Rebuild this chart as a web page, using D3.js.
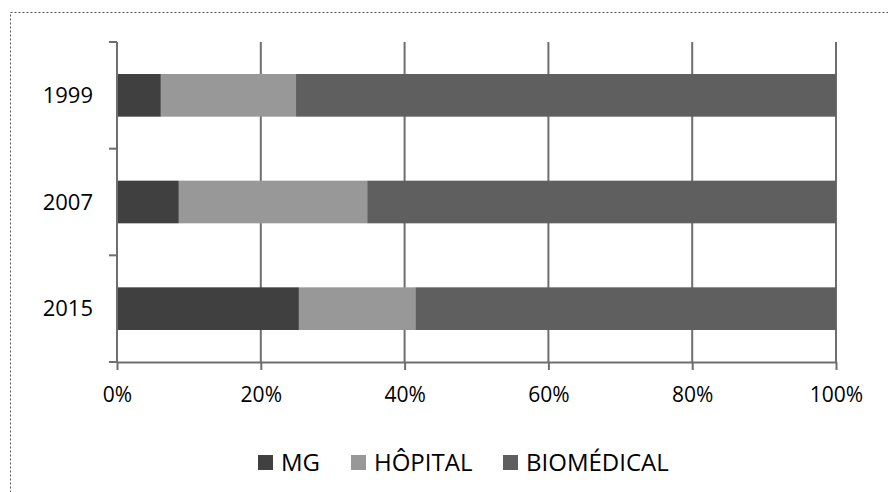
<!DOCTYPE html>
<html>
<head>
<meta charset="utf-8">
<script src="https://cdn.jsdelivr.net/npm/d3@7"></script>
<style>
  body { margin: 0; background: #fff; }
  svg { display: block; }
  text { font-family: "Open Sans", sans-serif; fill: #000; }
</style>
</head>
<body>
<div id="chart"></div>
<script>
// Data
const years = ['1999', '2007', '2015'];
const series = ['MG', 'HÔPITAL', 'BIOMÉDICAL'];
const mgValues = [6.1, 8.6, 25.3];
const hopitalValues = [18.8, 26.2, 16.2];
const biomedicalValues = [75.1, 65.2, 58.5];
const tickLabels = ['0%', '20%', '40%', '60%', '80%', '100%'];
const colors = ['#404040', '#989898', '#5f5f5f'];

const width = 888, height = 492;
const margin = {top: 42, right: 52, bottom: 130, left: 117};

const svg = d3.select('#chart')
    .append('svg')
    .attr('width', width)
    .attr('height', height);

// dotted frame
svg.append('rect')
    .attr('x', 10.5)
    .attr('y', 12.5)
    .attr('width', 900)
    .attr('height', 500)
    .attr('fill', 'none')
    .attr('stroke', '#555')
    .attr('stroke-width', 1)
    .attr('stroke-dasharray', '2,2');

const x = d3.scaleLinear()
    .domain([0, 100])
    .range([margin.left, width - margin.right]);

const y = d3.scaleBand()
    .domain(years)
    .range([margin.top, height - margin.bottom])
    .paddingInner(0.6)
    .paddingOuter(0.3);

// Build stacked table
const table = years.map((yr, i) => ({
    year: yr,
    'MG': mgValues[i],
    'HÔPITAL': hopitalValues[i],
    'BIOMÉDICAL': biomedicalValues[i]
}));
const stacked = d3.stack().keys(series)(table);

// Gridlines
svg.append('g')
    .selectAll('line')
    .data(d3.range(0, 101, 20))
    .enter()
    .append('line')
    .attr('x1', d => x(d))
    .attr('x2', d => x(d))
    .attr('y1', margin.top)
    .attr('y2', height - margin.bottom)
    .attr('stroke', '#6e6e6e')
    .attr('stroke-width', 2);

// Bars
svg.append('g')
    .selectAll('g')
    .data(stacked)
    .enter()
    .append('g')
    .attr('fill', (d, i) => colors[i])
    .selectAll('rect')
    .data(d => d)
    .enter()
    .append('rect')
    .attr('x', d => x(d[0]))
    .attr('y', d => y(d.data.year))
    .attr('width', d => x(d[1]) - x(d[0]))
    .attr('height', y.bandwidth());

// X axis
const xAxis = svg.append('g')
    .attr('transform', `translate(0,${height - margin.bottom})`)
    .call(d3.axisBottom(x).tickValues(d3.range(0, 101, 20))
        .tickFormat((d, i) => tickLabels[i])
        .tickSize(8).tickSizeOuter(0).tickPadding(17));
xAxis.select('.domain').attr('stroke', '#6e6e6e').attr('stroke-width', 2);
xAxis.selectAll('.tick line').attr('stroke', '#6e6e6e').attr('stroke-width', 2);
xAxis.selectAll('text').style('font-size', '21px').attr('fill', '#000');

// Y axis: ticks between categories
const yAxis = svg.append('g')
    .attr('transform', `translate(${margin.left},0)`);
yAxis.append('line')
    .attr('x1', 0).attr('x2', 0)
    .attr('y1', margin.top).attr('y2', height - margin.bottom)
    .attr('stroke', '#6e6e6e').attr('stroke-width', 2);
const step = y.step();
const yTicks = [margin.top].concat(years.map(yr => y(yr) - step * y.paddingInner() / 2 + step));
yAxis.selectAll('.ytick')
    .data(yTicks)
    .enter()
    .append('line')
    .attr('x1', -8).attr('x2', 0)
    .attr('y1', d => d).attr('y2', d => d)
    .attr('stroke', '#6e6e6e').attr('stroke-width', 2);
yAxis.selectAll('.ylabel')
    .data(years)
    .enter()
    .append('text')
    .attr('x', -24)
    .attr('y', d => y(d) + y.bandwidth() / 2)
    .attr('dy', '0.35em')
    .attr('text-anchor', 'end')
    .style('font-size', '22px')
    .text(d => d);

// Legend
const legendX = [258, 351, 503];
const legend = svg.append('g');
series.forEach((s, i) => {
    legend.append('rect')
        .attr('x', legendX[i])
        .attr('y', 455)
        .attr('width', 15)
        .attr('height', 15)
        .attr('fill', colors[i]);
    legend.append('text')
        .attr('x', legendX[i] + 23)
        .attr('y', 463)
        .attr('dy', '0.35em')
        .style('font-size', '24px')
        .text(s);
});
</script>
</body>
</html>
